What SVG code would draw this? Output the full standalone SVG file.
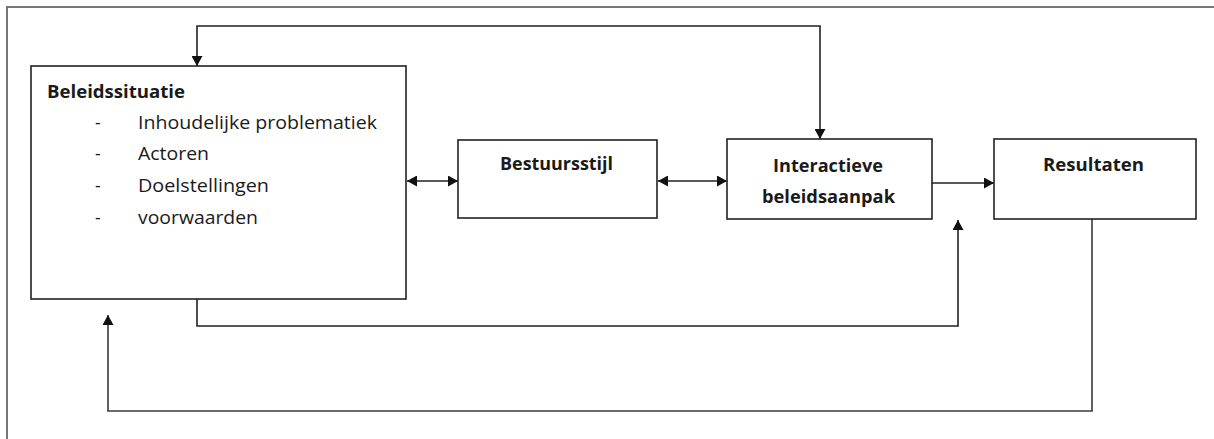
<svg xmlns="http://www.w3.org/2000/svg" width="1214" height="439" viewBox="0 0 1214 439">
  <style>
    .box { fill: #ffffff; stroke: #222222; stroke-width: 1.6; }
    .title { font-family: "Open Sans", "Liberation Sans", Arial, sans-serif; font-weight: bold; font-size: 17.5px; fill: #1a1a1a; }
    .item { font-family: "Open Sans", "Liberation Sans", Arial, sans-serif; font-size: 17.5px; fill: #1a1a1a; }
    .wire { fill: none; stroke: #222222; stroke-width: 1.6; }
    .frame { fill: none; stroke: #777777; stroke-width: 2; }
  </style>
  <defs>
    <marker id="arrow" viewBox="0 0 10 11" refX="10" refY="5.5" markerWidth="10" markerHeight="11" markerUnits="userSpaceOnUse" orient="auto-start-reverse">
      <path d="M0,0 L10,5.5 L0,11 z" fill="#111111"/>
    </marker>
  </defs>

  <rect width="1214" height="439" fill="#ffffff"/>
  <!-- page frame -->
  <path class="frame" d="M7,439 V7 H1214"/>

  <!-- connectors -->
  <g id="connectors">
    <path class="wire" d="M820,139 V26 H197 V66" marker-start="url(#arrow)" marker-end="url(#arrow)"/>
    <path class="wire" d="M407,181 H458" marker-start="url(#arrow)" marker-end="url(#arrow)"/>
    <path class="wire" d="M658,181 H727" marker-start="url(#arrow)" marker-end="url(#arrow)"/>
    <path class="wire" d="M932,183 H994" marker-end="url(#arrow)"/>
    <path class="wire" d="M197,299 V326 H958 V220" marker-end="url(#arrow)"/>
    <path class="wire" d="M1092,219 V411 H108 V315" marker-end="url(#arrow)" style="stroke:#3a3a3a"/>
  </g>

  <!-- nodes -->
  <g id="beleidssituatie">
    <rect class="box" x="31" y="66" width="375" height="233"/>
    <text class="title" x="47" y="98" textLength="138" lengthAdjust="spacingAndGlyphs">Beleidssituatie</text>
    <text class="item" x="95" y="129">-</text>
    <text class="item" x="138" y="129" textLength="239" lengthAdjust="spacingAndGlyphs">Inhoudelijke problematiek</text>
    <text class="item" x="95" y="160">-</text>
    <text class="item" x="138" y="160" textLength="71" lengthAdjust="spacingAndGlyphs">Actoren</text>
    <text class="item" x="95" y="192">-</text>
    <text class="item" x="138" y="192" textLength="131" lengthAdjust="spacingAndGlyphs">Doelstellingen</text>
    <text class="item" x="95" y="224">-</text>
    <text class="item" x="138" y="224" textLength="120" lengthAdjust="spacingAndGlyphs">voorwaarden</text>
  </g>

  <g id="bestuursstijl">
    <rect class="box" x="458" y="140" width="199" height="78"/>
    <text class="title" x="500" y="170" textLength="113" lengthAdjust="spacingAndGlyphs">Bestuursstijl</text>
  </g>

  <g id="interactieve-beleidsaanpak">
    <rect class="box" x="727" y="139" width="205" height="80"/>
    <text class="title" x="773" y="172" textLength="110" lengthAdjust="spacingAndGlyphs">Interactieve</text>
    <text class="title" x="762" y="203" textLength="133" lengthAdjust="spacingAndGlyphs">beleidsaanpak</text>
  </g>

  <g id="resultaten">
    <rect class="box" x="994" y="139" width="202" height="80"/>
    <text class="title" x="1043" y="171" textLength="101" lengthAdjust="spacingAndGlyphs">Resultaten</text>
  </g>
</svg>
